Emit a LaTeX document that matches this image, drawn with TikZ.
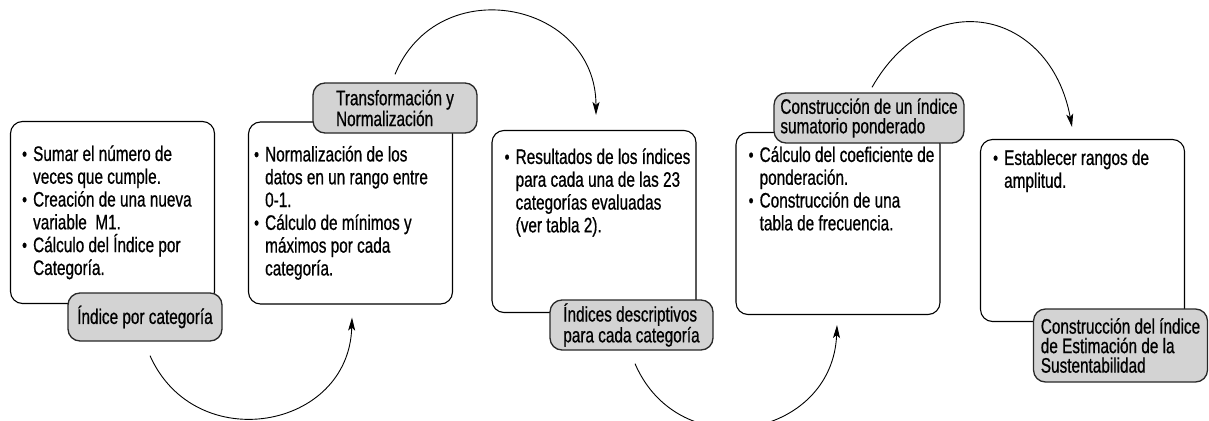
\documentclass[tikz,border=0pt]{standalone}
\usepackage{fontspec}
\setmainfont{Liberation Sans}[FakeStretch=0.73,FakeBold=0.7]
\usetikzlibrary{arrows.meta}
\definecolor{labgray}{RGB}{211,211,211}
\definecolor{labline}{RGB}{40,40,40}
\newcommand\bitem[1]{\par\noindent\hangindent=11pt\hangafter=0\llap{\makebox[11pt][l]{\fontsize{19}{19}\selectfont\raisebox{0.5pt}{•}}}#1\par}
\tikzset{
  stepbox/.style={draw=black, line width=1.1pt, rounded corners=12pt, fill=white,
    minimum width=204pt, minimum height=182pt, inner sep=0pt},
  lab/.style={draw=labline, line width=1.3pt, rounded corners=12pt, fill=labgray,
    align=left, inner sep=0pt, font=\fontsize{21}{19.5}\selectfont},
  txt/.style={anchor=base west, inner sep=0pt, font=\fontsize{21}{22.8}\selectfont},
  arr/.style={line width=0.9pt, -{Stealth[length=13pt,width=7pt,inset=3pt]}}
}
\begin{document}
\begin{tikzpicture}[x=1pt,y=-1pt]
\useasboundingbox (0,0) rectangle (1209,420);
\begin{scope}
\clip (0,0) rectangle (1209,420);
% boxes
\node[stepbox] (b1) at (112.5,212.5) {};
\node[stepbox] (b2) at (350.5,213) {};
\node[stepbox] (b3) at (594,221.5) {};
\node[stepbox] (b4) at (838,223.5) {};
\node[stepbox] (b5) at (1082.5,230.5) {};
% texts
\node[txt] (t1) at ([xshift=12pt,yshift=-40pt]b1.north west) {\parbox[t]{190pt}{%
  \bitem{Sumar el número de\\veces que cumple.}%
  \bitem{Creación de una nueva\\variable\ \ M1.}%
  \bitem{Cálculo del Índice por\\Categoría.}}};
\node[txt] (t2) at ([xshift=6pt,yshift=-40pt]b2.north west) {\parbox[t]{195pt}{%
  \bitem{Normalización de los\\datos en un rango entre\\0-1.}%
  \bitem{Cálculo de mínimos y\\máximos por cada\\categoría.}}};
\node[txt] (t3) at ([xshift=13pt,yshift=-34pt]b3.north west) {\parbox[t]{190pt}{%
  \bitem{Resultados de los índices\\para cada una de las 23\\categorías evaluadas\\(ver tabla 2).}}};
\node[txt] (t4) at ([xshift=13pt,yshift=-30pt]b4.north west) {\parbox[t]{190pt}{%
  \bitem{Cálculo del coeficiente de\\ponderación.}%
  \bitem{Construcción de una\\tabla de frecuencia.}}};
\node[txt] (t5) at ([xshift=13pt,yshift=-26pt]b5.north west) {\parbox[t]{190pt}{%
  \bitem{Establecer rangos de\\amplitud.}}};
% labels
\node[lab, minimum width=154pt, minimum height=48pt] (l1) at (145,317) {Índice por categoría};
\node[lab, minimum width=164pt, minimum height=50pt] (l2) at (395,108) {Transformación y\\Normalización};
\node[lab, minimum width=163pt, minimum height=50pt] (l3) at (631.5,325) {Índices descriptivos\\para cada categoría};
\node[lab, minimum width=190pt, minimum height=50pt] (l4) at (869,118) {Construcción de un índice\\sumatorio ponderado};
\node[lab, minimum width=174pt, minimum height=73pt] (l5) at (1120.5,345.5) {Construcción del índice\\de Estimación de la\\Sustentabilidad};
% arcs
\draw[arr] ([xshift=5pt,yshift=-14pt]l1.south) .. controls (195,457) and (349,430) .. ([xshift=1.5pt,yshift=-13pt]b2.south);
\draw[arr] ([yshift=8pt]l2.north) .. controls (438,-30) and (596,1) .. ([xshift=2pt,yshift=15pt]b3.north);
\draw[arr] ([xshift=3.5pt,yshift=-13pt]l3.south) .. controls (679.5,467) and (832.7,438) .. ([xshift=-1pt,yshift=-10pt]b4.south);
\draw[arr] ([xshift=3pt,yshift=5pt]l4.north) .. controls (930.8,-16.4) and (1050.4,9.4) .. ([xshift=-10.5pt,yshift=12pt]b5.north);
\end{scope}
\end{tikzpicture}
\end{document}
